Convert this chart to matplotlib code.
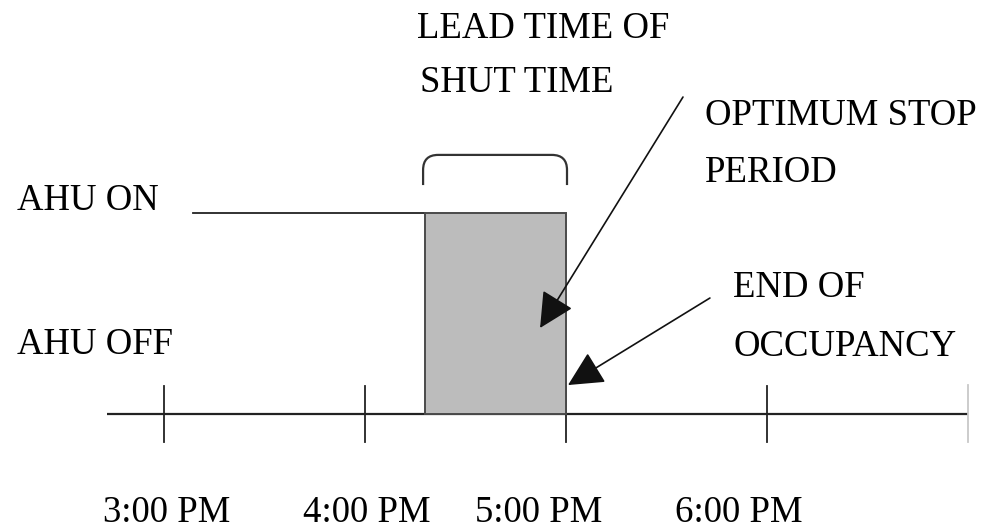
import matplotlib
matplotlib.use('Agg')
import matplotlib.pyplot as plt
from matplotlib.patches import Rectangle, PathPatch
from matplotlib.path import Path

plt.rcParams['font.family'] = ['Liberation Serif', 'DejaVu Serif']

# Time axis in hours (15 = 3:00 PM), AHU state 0 = off, 1 = on
tick_hours = [15, 16, 17, 18]
tick_labels = ['3:00 PM', '4:00 PM', '5:00 PM', '6:00 PM']
label_x = [14.697, 15.692, 16.547, 17.542]
axis_start, axis_end = 14.717, 19.0
ahu_on_start = 15.144
stop_start, occupancy_end = 16.30, 17.0
state_off, state_on = 0, 1

# Annotation texts (text, x, baseline y)
labels = [
    ('LEAD TIME OF', 16.259, 1.871),
    ('SHUT TIME', 16.274, 1.602),
    ('OPTIMUM STOP', 17.692, 1.438),
    ('PERIOD', 17.692, 1.154),
    ('AHU ON', 14.269, 1.015),
    ('AHU OFF', 14.269, 0.299),
    ('END OF', 17.831, 0.582),
    ('OCCUPANCY', 17.831, 0.289),
]

fig = plt.figure(figsize=(9.88, 5.31), dpi=100)
ax = fig.add_axes([0, 0, 1, 1])
ax.set_xlim(15 - 164 / 201, 15 + (988 - 164) / 201)
ax.set_ylim(-117 / 201, 414 / 201)
ax.axis('off')

# Time axis and ticks
ax.plot([axis_start, axis_end], [state_off, state_off], color='#222222', lw=1.6, solid_capstyle='butt')
for h in tick_hours:
    ax.plot([h, h], [-0.14, 0.14], color='#222222', lw=1.3)
ax.plot([axis_end, axis_end], [-0.14, 0.145], color='#c8c8c8', lw=1.3)

for lab, x in zip(tick_labels, label_x):
    ax.text(x, -0.537, lab, fontsize=26.5, ha='left', va='baseline')

# AHU on line and optimum stop period
ax.plot([ahu_on_start, stop_start], [state_on, state_on], color='#222222', lw=1.3)
ax.add_patch(Rectangle((stop_start, state_off), occupancy_end - stop_start, state_on - state_off,
                       facecolor='#bcbcbc', edgecolor='#4a4a4a', lw=1.4, zorder=3))

# Brace above the lead time
x0, x1 = 16.289, 17.005
yb, yt, r = 1.139, 1.289, 0.075
verts = [(x0, yb), (x0, yt - r), (x0, yt), (x0 + r, yt),
         (x1 - r, yt), (x1, yt), (x1, yt - r), (x1, yb)]
codes = [Path.MOVETO, Path.LINETO, Path.CURVE3, Path.CURVE3,
         Path.LINETO, Path.CURVE3, Path.CURVE3, Path.LINETO]
ax.add_patch(PathPatch(Path(verts, codes), facecolor='none', edgecolor='#333333', lw=1.6))

# Text labels
for txt, x, y in labels:
    ax.text(x, y, txt, fontsize=26.5, ha='left', va='baseline')

# Arrows
arrow = dict(arrowstyle='-|>,head_length=1.1,head_width=0.55', color='#111111', lw=1.2,
             mutation_scale=20, shrinkA=0, shrinkB=0)
ax.annotate('', xy=(16.871, 0.428), xytext=(17.582, 1.577), arrowprops=arrow, zorder=5)
ax.annotate('', xy=(17.01, 0.144), xytext=(17.716, 0.577), arrowprops=arrow, zorder=5)

fig.savefig('out.png', dpi=100)
